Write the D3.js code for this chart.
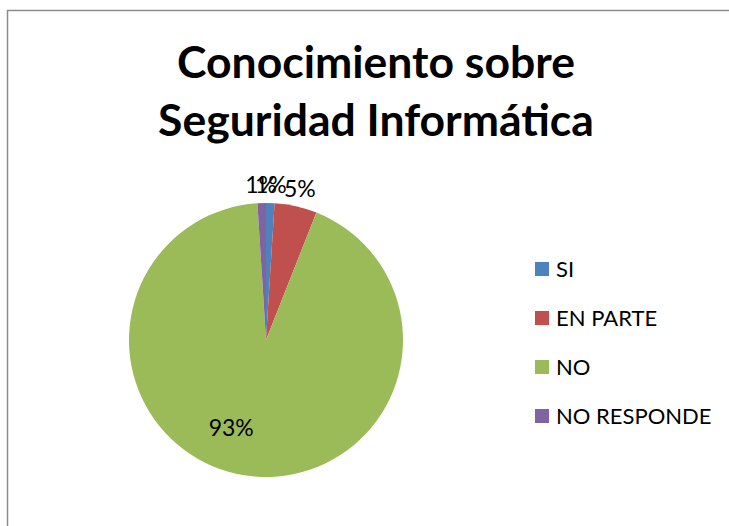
<!DOCTYPE html>
<html>
<head>
<meta charset="utf-8">
<script src="https://cdn.jsdelivr.net/npm/d3@7"></script>
<style>
  body { margin: 0; background: #fff; }
  svg { display: block; }
  text { font-family: Lato, "Open Sans", sans-serif; }
</style>
</head>
<body>
<div id="chart"></div>
<script>
// Chart data
const categories = ["SI", "EN PARTE", "NO", "NO RESPONDE"];
const values = [1, 5, 93, 1];
const colors = ["#4F81BD", "#C0504D", "#9BBB59", "#8064A2"];
const titleLines = ["Conocimiento sobre", "Seguridad Informática"];

const width = 729, height = 526;

const svg = d3.select("#chart")
  .append("svg")
  .attr("width", width)
  .attr("height", height);

// outer chart border (runs off right and bottom edge)
svg.append("rect")
  .attr("x", 7.5)
  .attr("y", 10.5)
  .attr("width", width)
  .attr("height", height)
  .attr("fill", "#fff")
  .attr("stroke", "#8c8c8c")
  .attr("stroke-width", 1.5);

// Title
svg.append("g")
  .selectAll("text")
  .data(titleLines)
  .enter()
  .append("text")
  .attr("x", 376)
  .attr("y", (d, i) => 78 + i * 58)
  .attr("text-anchor", "middle")
  .style("font-size", "44.5px")
  .style("font-weight", "bold")
  .style("fill", "#000")
  .text((d) => d);

// Pie
const cx = 266, cy = 340, radius = 137;
const total = d3.sum(values);
const pie = d3.pie().sort(null).value((d) => d.value);
const arcs = pie(categories.map((c, i) => ({ name: c, value: values[i], color: colors[i] })));
const arc = d3.arc().innerRadius(0).outerRadius(radius);

const g = svg.append("g").attr("transform", `translate(${cx},${cy})`);

g.selectAll("path")
  .data(arcs)
  .enter()
  .append("path")
  .attr("d", arc)
  .attr("fill", (d) => d.data.color);

// Percentage labels: small slices outside, big slice inside (Excel nudges it a bit clockwise)
const outsideR = radius + 18;
const insideR = radius * 0.69;
const insideShift = 0.22; // radians

function labelPos(d) {
  const big = d.data.value / total > 0.5;
  const a = (d.startAngle + d.endAngle) / 2 + (big ? insideShift : 0);
  const r = big ? insideR : outsideR;
  return [Math.sin(a) * r, -Math.cos(a) * r];
}

g.selectAll("text.pct")
  .data(arcs)
  .enter()
  .append("text")
  .attr("class", "pct")
  .attr("transform", (d) => `translate(${labelPos(d)})`)
  .attr("text-anchor", "middle")
  .attr("dy", "0.35em")
  .style("font-size", "23px")
  .style("fill", "#000")
  .text((d) => Math.round((d.data.value / total) * 100) + "%");

// Legend
const legend = svg.append("g").attr("transform", "translate(535, 262)");
const row = legend.selectAll("g")
  .data(categories)
  .enter()
  .append("g")
  .attr("transform", (d, i) => `translate(0, ${i * 49})`);

row.append("rect")
  .attr("width", 14)
  .attr("height", 14)
  .attr("fill", (d, i) => colors[i]);

row.append("text")
  .attr("x", 21)
  .attr("y", 7)
  .attr("dy", "0.35em")
  .style("font-size", "22px")
  .style("fill", "#000")
  .text((d) => d);
</script>
</body>
</html>
